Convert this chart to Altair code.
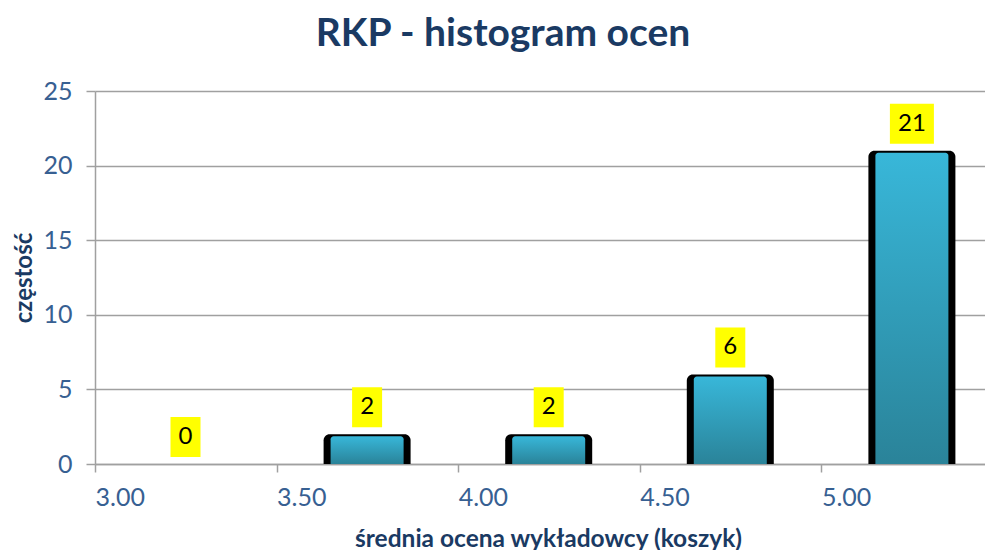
import altair as alt
import pandas as pd

# data
bins = [3.00, 3.50, 4.00, 4.50, 5.00]
counts = [0, 2, 2, 6, 21]
bin_labels = ["3.00", "3.50", "4.00", "4.50", "5.00"]
chart_title = ["RKP - histogram ocen"]

df = pd.DataFrame({"start": bins, "count": counts, "label": bin_labels})

FONT = "Lato"
NAVY = "#1A3A63"
TICKC = "#376092"
GRID = "#A0A0A0"

W, H = 890, 373
PX_PER_X = 363.2   # pixels per 1.0 on x
PX_PER_Y = 373 / 25
xdom = [3.0, 3.0 + W / PX_PER_X]

def xenc(field):
    return alt.X(field, type="quantitative", title="średnia ocena wykładowcy (koszyk)",
                 scale=alt.Scale(domain=xdom, nice=False, zero=False),
                 axis=alt.Axis(values=bins, format=".2f", labelAlign="left", grid=False,
                               labelFont=FONT, labelFontSize=25, labelColor=TICKC,
                               labelPadding=13, tickSize=8, tickColor=GRID, tickWidth=1.5,
                               domainColor=GRID, domainWidth=1.5,
                               titleFont=FONT, titleFontSize=24.5, titleFontWeight="bold",
                               titleColor=NAVY, titlePadding=17, titleX=453))

def yenc(field):
    return alt.Y(field, type="quantitative", title="częstość",
                 scale=alt.Scale(domain=[0, 25], nice=False),
                 axis=alt.Axis(values=[0, 5, 10, 15, 20, 25], grid=True, gridColor=GRID,
                               gridWidth=1.5, labelFont=FONT, labelFontSize=25,
                               labelColor=TICKC, labelPadding=14, tickSize=9,
                               tickColor=GRID, tickWidth=1.5, domainColor=GRID,
                               domainWidth=1.5, titleFont=FONT, titleFontSize=24,
                               titleFontWeight="bold", titleColor=NAVY, titlePadding=6))

base = alt.Chart(df).transform_calculate(
    bx0=f"datum.start + 47/{PX_PER_X}",
    bx1=f"datum.start + 134/{PX_PER_X}",
    ix0=f"datum.start + 54/{PX_PER_X}",
    ix1=f"datum.start + 127/{PX_PER_X}",
    iy1=f"max(0, datum.count - 2/{PX_PER_Y})",
    zero="0",
    cx=f"datum.start + 90.5/{PX_PER_X}",
    hw=f"(length(toString(datum.count)) > 1 ? 22 : 15)/{PX_PER_X}",
    lx0="datum.cx - datum.hw",
    lx1="datum.cx + datum.hw",
    ly0=f"datum.count + 7/{PX_PER_Y}",
    ly1=f"datum.count + 47/{PX_PER_Y}",
    ly=f"datum.count + 27/{PX_PER_Y}",
)

black = base.transform_filter("datum.count > 0").mark_bar(
    color="#000000", cornerRadiusTopLeft=6, cornerRadiusTopRight=6
).encode(x=xenc("bx0:Q"), x2="bx1:Q", y=yenc("zero:Q"), y2="count:Q")

grad = alt.Gradient(
    gradient="linear",
    stops=[alt.GradientStop(color="#38B7D9", offset=0),
           alt.GradientStop(color="#2A8399", offset=1)],
    x1=0, x2=0, y1=0, y2=1,
)
blue = base.transform_filter("datum.count > 0").mark_bar(
    color=grad, cornerRadiusTopLeft=3, cornerRadiusTopRight=3
).encode(x=xenc("ix0:Q"), x2="ix1:Q", y=yenc("zero:Q"), y2="iy1:Q")

boxes = base.mark_rect(color="#FFFF00").encode(
    x=xenc("lx0:Q"), x2="lx1:Q", y=yenc("ly0:Q"), y2="ly1:Q")

texts = base.mark_text(font=FONT, fontSize=24, color="#000000", baseline="middle",
                       align="center").encode(
    x=xenc("cx:Q"), y=yenc("ly:Q"), text="count:Q")

title = alt.Chart(pd.DataFrame({"t": chart_title})).mark_text(
    font=FONT, fontSize=39, fontWeight="bold", color=NAVY, align="center",
    baseline="alphabetic"
).encode(x=alt.value(408), y=alt.value(-45), text="t:N")

chart = alt.layer(black, blue, boxes, texts, title).properties(
    width=W, height=H,
    autosize="none",
    padding={"left": 87, "top": 83, "right": 0, "bottom": 86},
).configure_view(stroke=None)

chart.save("out.html", embed_options={"renderer": "svg", "actions": False})
